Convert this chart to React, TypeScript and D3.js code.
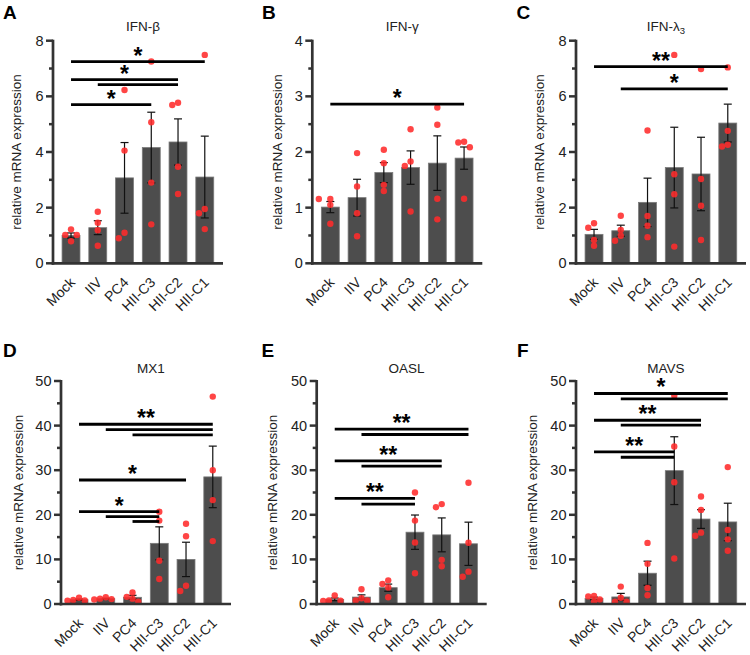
import React from "react";
import * as d3 from "d3";

const categories = ["Mock", "IIV", "PC4", "HII-C3", "HII-C2", "HII-C1"];
const letters = ["A", "B", "C", "D", "E", "F"];
const titles = ["IFN-β", "IFN-γ", "IFN-λ", "MX1", "OASL", "MAVS"];
const titleSubs = ["", "", "3", "", "", ""];
const yAxisLabel = "relative mRNA expression";

// A: IFN-β
const ifnbMean = [1.0, 1.28, 3.07, 4.16, 4.36, 3.1];
const ifnbSem = [0.09, 0.25, 1.27, 1.27, 0.83, 1.47];
const ifnbPoints = [
  [1.22, 1.02, 1.02, 0.79],
  [1.85, 1.46, 1.19, 0.63],
  [6.23, 4.05, 1.1, 0.9],
  [7.25, 5.07, 2.9, 1.4],
  [5.77, 5.69, 3.47, 2.49],
  [7.49, 1.95, 1.8, 1.23],
];
const ifnbSig = [
  { label: "*", lines: [[0, 5, 7.25]] },
  { label: "*", lines: [[0, 4, 6.6], [1, 4, 6.42]] },
  { label: "*", lines: [[0, 3, 5.7]] },
];

// B: IFN-γ
const ifngMean = [1.01, 1.18, 1.63, 1.72, 1.8, 1.89];
const ifngSem = [0.1, 0.33, 0.18, 0.3, 0.49, 0.2];
const ifngPoints = [
  [1.155, 1.155, 1.05, 0.71],
  [1.98, 1.38, 0.9, 0.485],
  [2.04, 1.8, 1.41, 1.3],
  [2.41, 1.83, 1.75, 0.93],
  [2.8, 2.49, 1.16, 0.79],
  [2.185, 2.17, 2.085, 1.16],
];
const ifngSig = [{ label: "*", lines: [[0, 5, 2.86]] }];

// C: IFN-λ3
const ifnlMean = [1.04, 1.17, 2.19, 3.44, 3.21, 5.04];
const ifnlSem = [0.18, 0.2, 0.87, 1.45, 1.32, 0.68];
const ifnlPoints = [
  [1.44, 1.28, 0.84, 0.63],
  [1.71, 1.2, 0.99, 0.81],
  [4.77, 1.7, 1.35, 0.94],
  [7.49, 3.2, 2.48, 0.6],
  [6.98, 3.03, 2.07, 0.84],
  [7.04, 4.76, 4.26, 4.2],
];
const ifnlSig = [
  { label: "**", lines: [[0, 5, 7.07]] },
  { label: "*", lines: [[1, 5, 6.27]] },
];

// D: MX1
const mx1Mean = [0.96, 1.2, 1.5, 13.6, 10.0, 28.5];
const mx1Sem = [0.15, 0.1, 0.45, 3.7, 3.85, 6.9];
const mx1Points = [
  [1.4, 0.9, 0.8, 0.75],
  [1.5, 1.2, 1.1, 1.0],
  [2.6, 1.6, 1.2, 0.5],
  [20.7, 18.7, 9.7, 5.6],
  [18.0, 15.2, 4.1, 2.9],
  [46.5, 30.0, 23.3, 14.1],
];
const mx1Sig = [
  { label: "**", lines: [[0, 5, 40.3], [1, 5, 39.1], [2, 5, 37.9]] },
  { label: "*", lines: [[0, 4, 27.8]] },
  { label: "*", lines: [[0, 3, 20.7], [1, 3, 19.6], [2, 3, 18.5]] },
];

// E: OASL
const oaslMean = [1.04, 1.55, 3.66, 16.1, 15.5, 13.5];
const oaslSem = [0.3, 0.5, 0.8, 3.85, 3.8, 4.85];
const oaslPoints = [
  [1.9, 0.8, 0.75, 0.7],
  [3.3, 1.3, 0.8, 0.8],
  [5.3, 4.5, 3.7, 1.5],
  [25.0, 18.7, 13.8, 6.9],
  [22.4, 21.7, 9.9, 8.45],
  [27.2, 13.75, 7.25, 6.1],
];
const oaslSig = [
  { label: "**", lines: [[0, 5, 39.2], [1, 5, 38.0]] },
  { label: "**", lines: [[0, 4, 32.1], [1, 4, 30.9]] },
  { label: "**", lines: [[0, 3, 23.7], [1, 3, 22.4]] },
];

// F: MAVS
const mavsMean = [1.25, 1.58, 6.9, 29.9, 19.05, 18.4];
const mavsSem = [0.3, 0.8, 2.7, 7.6, 2.1, 4.2];
const mavsPoints = [
  [1.8, 1.7, 1.0, 0.5],
  [3.9, 1.4, 0.5, 0.5],
  [13.7, 9.0, 3.6, 1.95],
  [46.7, 35.3, 27.3, 10.2],
  [24.1, 21.1, 16.0, 15.3],
  [30.7, 16.6, 14.5, 11.95],
];
const mavsSig = [
  { label: "*", lines: [[0, 5, 47.2], [1, 5, 46.0]] },
  { label: "**", lines: [[0, 4, 41.2], [1, 4, 40.1]] },
  { label: "**", lines: [[0, 3, 34.1], [1, 3, 32.9]] },
];

const yMaxes = [8, 4, 8, 50, 50, 50];
const yMajorSteps = [2, 1, 2, 10, 10, 10];

const panelData = [
  { mean: ifnbMean, sem: ifnbSem, points: ifnbPoints, sig: ifnbSig },
  { mean: ifngMean, sem: ifngSem, points: ifngPoints, sig: ifngSig },
  { mean: ifnlMean, sem: ifnlSem, points: ifnlPoints, sig: ifnlSig },
  { mean: mx1Mean, sem: mx1Sem, points: mx1Points, sig: mx1Sig },
  { mean: oaslMean, sem: oaslSem, points: oaslPoints, sig: oaslSig },
  { mean: mavsMean, sem: mavsSem, points: mavsPoints, sig: mavsSig },
];

// layout (pixels)
const layouts = [
  { axisX: 53, yTop: 40.7, yZero: 263.3, labelX: 16.5, letterX: 3, letterY: 19, titleY: 31 },
  { axisX: 312.3, yTop: 40.7, yZero: 263.3, labelX: 277.5, letterX: 262, letterY: 19, titleY: 31 },
  { axisX: 576, yTop: 40.7, yZero: 263.3, labelX: 539, letterX: 516.5, letterY: 19, titleY: 31 },
  { axisX: 61, yTop: 381, yZero: 604, labelX: 18, letterX: 3, letterY: 356.5, titleY: 372.5 },
  { axisX: 316.7, yTop: 381, yZero: 604, labelX: 272.7, letterX: 261.5, letterY: 356.5, titleY: 372.5 },
  { axisX: 576, yTop: 381, yZero: 604, labelX: 532, letterX: 517, letterY: 356.5, titleY: 372.5 },
];

const FONT = "'Liberation Sans', Arial, Helvetica, sans-serif";
const AXIS_COLOR = "#333333";
const BAR_FILL = "#4d4d4d";
const BAR_STROKE = "#7a7a7a";
const DOT_COLOR = "#ff2b2b";
const DOT_R = 3.2;

function swarm(values: number[], y: (v: number) => number, cx: number) {
  const placed: { x: number; y: number }[] = [];
  const step = DOT_R * 1.8;
  const order = values.map((v, i) => i).sort((a, b) => values[b] - values[a]);
  const out: { x: number; y: number }[] = new Array(values.length);
  for (const i of order) {
    const py = y(values[i]);
    const cands = [0, -1, 1, -2, 2, -3, 3];
    let chosen = 0;
    for (const c of cands) {
      const px = cx + c * step;
      const ok = placed.every((p) => Math.hypot(p.x - px, p.y - py) >= DOT_R * 1.8);
      if (ok) {
        chosen = c;
        break;
      }
    }
    const pt = { x: cx + chosen * step, y: py };
    placed.push(pt);
    out[i] = pt;
  }
  return out;
}

function Panel({ idx }: { idx: number }) {
  const L = layouts[idx];
  const D = panelData[idx];
  const yMax = yMaxes[idx];
  const major = yMajorSteps[idx];
  const x = d3
    .scaleBand<string>()
    .domain(categories)
    .range([L.axisX + 4.65, L.axisX + 165.15])
    .paddingInner(0.33)
    .paddingOuter(0.165);
  const y = d3.scaleLinear().domain([0, yMax]).range([L.yZero, L.yTop]);
  const bw = x.bandwidth();
  const cx = (i: number) => (x(categories[i]) as number) + bw / 2;
  const majorTicks = d3.range(0, yMax + major / 2, major);
  const minorTicks = d3.range(major / 2, yMax, major);
  const xEnd = L.axisX + 170;
  const barsCenter = (cx(0) + cx(5)) / 2;

  return (
    <g>
      <text x={L.letterX} y={L.letterY} fontFamily={FONT} fontWeight="bold" fontSize={19} fill="#000">
        {letters[idx]}
      </text>
      <text x={barsCenter + 5} y={L.titleY} fontFamily={FONT} fontSize={13.5} textAnchor="middle" fill="#222">
        {titles[idx]}
        {titleSubs[idx] ? (
          <tspan fontSize={9.5} dy={3}>
            {titleSubs[idx]}
          </tspan>
        ) : null}
      </text>
      <text
        transform={`translate(${L.labelX},${(L.yTop + L.yZero) / 2}) rotate(-90)`}
        fontFamily={FONT}
        fontSize={13.5}
        textAnchor="middle"
        dominantBaseline="central"
        fill="#222"
      >
        {yAxisLabel}
      </text>

      {/* bars */}
      {D.mean.map((m, i) => (
        <rect
          key={"b" + i}
          x={x(categories[i])}
          y={y(m)}
          width={bw}
          height={L.yZero - y(m)}
          fill={BAR_FILL}
          stroke={BAR_STROKE}
          strokeWidth={0.8}
        />
      ))}

      {/* error bars */}
      {D.mean.map((m, i) => {
        const c = cx(i);
        const hi = y(m + D.sem[i]);
        const lo = y(Math.max(0, m - D.sem[i]));
        return (
          <g key={"e" + i} stroke="#111" strokeWidth={1.2}>
            <line x1={c} x2={c} y1={hi} y2={lo} />
            <line x1={c - 4} x2={c + 4} y1={hi} y2={hi} />
            <line x1={c - 4} x2={c + 4} y1={lo} y2={lo} />
          </g>
        );
      })}

      {/* dots */}
      {D.points.map((vals, i) =>
        swarm(vals, y, cx(i)).map((p, j) => (
          <circle key={"d" + i + "-" + j} cx={p.x} cy={p.y} r={DOT_R} fill={DOT_COLOR} fillOpacity={0.88} />
        ))
      )}

      {/* axes */}
      <line x1={L.axisX} x2={L.axisX} y1={L.yZero + 1.4} y2={y(yMax) - 1} stroke={AXIS_COLOR} strokeWidth={2.7} />
      <line x1={L.axisX - 1.3} x2={xEnd} y1={L.yZero} y2={L.yZero} stroke={AXIS_COLOR} strokeWidth={2.7} />
      {majorTicks.map((t) => (
        <g key={"t" + t}>
          <line x1={L.axisX - 7} x2={L.axisX} y1={y(t)} y2={y(t)} stroke={AXIS_COLOR} strokeWidth={2.5} />
          <text
            x={L.axisX - 9.5}
            y={y(t)}
            fontFamily={FONT}
            fontSize={14.5}
            textAnchor="end"
            dominantBaseline="central"
            fill="#222"
          >
            {t}
          </text>
        </g>
      ))}
      {minorTicks.map((t) => (
        <line key={"m" + t} x1={L.axisX - 4} x2={L.axisX} y1={y(t)} y2={y(t)} stroke={AXIS_COLOR} strokeWidth={2.5} />
      ))}

      {/* category labels */}
      {categories.map((c, i) => (
        <text
          key={"c" + i}
          transform={`translate(${cx(i) + 5},${L.yZero + 20}) rotate(-45)`}
          fontFamily={FONT}
          fontSize={14}
          textAnchor="end"
          fill="#222"
        >
          {c}
        </text>
      ))}

      {/* significance */}
      {D.sig.map((g, k) => {
        const first = g.lines[0];
        const sx = (cx(first[0]) + cx(first[1])) / 2;
        const sy = y(first[2]);
        return (
          <g key={"s" + k}>
            {g.lines.map((ln, j) => (
              <line
                key={j}
                x1={cx(ln[0])}
                x2={cx(ln[1])}
                y1={y(ln[2])}
                y2={y(ln[2])}
                stroke="#000"
                strokeWidth={2.8}
              />
            ))}
            <text
              x={sx}
              y={sy + 2}
              fontFamily={FONT}
              fontWeight="bold"
              fontSize={23}
              textAnchor="middle"
              fill="#000"
            >
              {g.label}
            </text>
          </g>
        );
      })}
    </g>
  );
}

export default function App() {
  return (
    <svg
      width={750}
      height={655}
      viewBox="0 0 750 655"
      style={{ position: "absolute", left: 0, top: 0, display: "block", background: "#fff" }}
    >
      <rect x={0} y={0} width={750} height={655} fill="#fff" />
      {letters.map((_, i) => (
        <Panel key={i} idx={i} />
      ))}
    </svg>
  );
}
